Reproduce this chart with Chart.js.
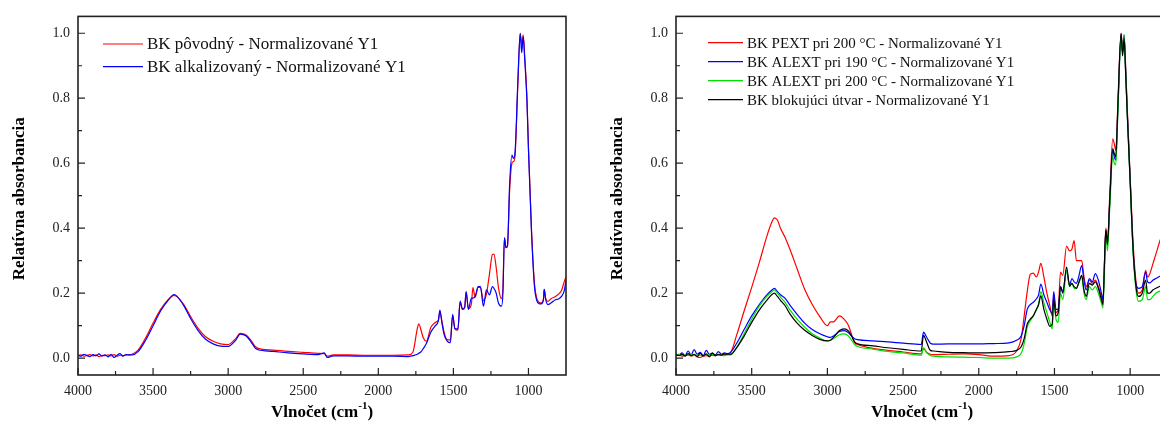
<!DOCTYPE html>
<html>
<head>
<meta charset="utf-8">
<script src="https://cdn.jsdelivr.net/npm/chart.js@4.4.1/dist/chart.umd.min.js"></script>
<style>
    html, body { margin: 0; padding: 0; background: #fff; overflow: hidden; }
    #wrap { position: relative; width: 1160px; height: 428px; }
    .panel { position: absolute; top: 0; width: 580px; height: 428px; overflow: hidden; }
</style>
</head>
<body>
<div id="wrap">
    <div class="panel" style="left:0"><canvas id="leftChart" width="580" height="428"></canvas></div>
    <div class="panel" style="left:580px"><canvas id="rightChart" width="600" height="428"></canvas></div>
</div>
<script>
// Axis ticks
const xTicks = [4000, 3500, 3000, 2500, 2000, 1500, 1000];
const yTicks = [0.0, 0.2, 0.4, 0.6, 0.8, 1.0];

// Left panel: wavenumbers (cm-1) and normalised absorbance
const wnLeft = [
    4000, 3980, 3960, 3940, 3920, 3900, 3880, 3860, 3840, 3820, 3800, 3780, 3760, 3740, 3720, 3700, 3680, 3660,
    3640, 3600, 3550, 3500, 3450, 3400, 3360, 3300, 3250, 3200,
    3150, 3100, 3050, 3000, 2950, 2920, 2880, 2850, 2820, 2800,
    2700, 2600, 2500, 2400, 2360, 2340, 2300, 2200, 2100, 2000,
    1900, 1800, 1770, 1740, 1730, 1715, 1700, 1680, 1650, 1620,
    1600, 1590, 1575, 1560, 1540, 1520, 1505, 1490, 1470, 1455,
    1440, 1425, 1415, 1400, 1380, 1370, 1355, 1335, 1320, 1300,
    1280, 1260, 1240, 1230, 1215, 1200, 1180, 1170, 1160, 1150,
    1140, 1125, 1110, 1100, 1090, 1070, 1055, 1045, 1035, 1025,
    1010, 1000, 980, 960, 945, 930, 915, 900, 895, 885,
    870, 850, 820, 800, 780, 760, 750
];
const povodny = [
    0.008, 0.010, 0.006, 0.009, 0.011, 0.007, 0.010, 0.005, 0.009, 0.008, 0.010, 0.007, 0.011, 0.006, 0.009, 0.008, 0.010, 0.010,
    0.012, 0.025, 0.062, 0.108, 0.150, 0.180, 0.193, 0.168, 0.128, 0.092,
    0.066, 0.052, 0.044, 0.042, 0.060, 0.076, 0.071, 0.056, 0.036, 0.030,
    0.025, 0.021, 0.018, 0.015, 0.014, 0.006, 0.010, 0.010, 0.009, 0.009,
    0.009, 0.010, 0.018, 0.092, 0.106, 0.085, 0.062, 0.052, 0.095, 0.110,
    0.118, 0.140, 0.110, 0.076, 0.056, 0.056, 0.132, 0.091, 0.086, 0.173,
    0.152, 0.157, 0.203, 0.152, 0.167, 0.217, 0.188, 0.218, 0.218, 0.177,
    0.197, 0.258, 0.319, 0.320, 0.279, 0.218, 0.183, 0.218, 0.370, 0.340,
    0.345, 0.520, 0.600, 0.605, 0.620, 0.850, 1.000, 0.965, 0.995, 0.930,
    0.800, 0.650, 0.400, 0.230, 0.185, 0.172, 0.170, 0.183, 0.212, 0.183,
    0.175, 0.183, 0.190, 0.197, 0.208, 0.238, 0.250
];
const alkalizovany = [
    0.010, 0.006, 0.012, 0.008, 0.005, 0.011, 0.007, 0.013, 0.006, 0.010, 0.004, 0.012, 0.002, 0.009, 0.014, 0.006, 0.011, 0.010,
    0.010, 0.020, 0.055, 0.100, 0.145, 0.178, 0.196, 0.165, 0.122, 0.085,
    0.058, 0.044, 0.037, 0.036, 0.055, 0.074, 0.068, 0.052, 0.031, 0.026,
    0.021, 0.016, 0.013, 0.011, 0.016, 0.002, 0.007, 0.007, 0.006, 0.006,
    0.006, 0.005, 0.008, 0.012, 0.015, 0.020, 0.030, 0.045, 0.080, 0.100,
    0.115, 0.148, 0.105, 0.070, 0.052, 0.048, 0.135, 0.090, 0.090, 0.176,
    0.150, 0.155, 0.205, 0.150, 0.185, 0.185, 0.190, 0.220, 0.220, 0.160,
    0.210, 0.195, 0.220, 0.215, 0.200, 0.170, 0.160, 0.200, 0.370, 0.340,
    0.345, 0.540, 0.625, 0.615, 0.630, 0.860, 1.000, 0.940, 0.990, 0.920,
    0.790, 0.640, 0.390, 0.220, 0.178, 0.168, 0.167, 0.180, 0.212, 0.180,
    0.165, 0.170, 0.180, 0.182, 0.190, 0.210, 0.240
];

// Right panel
const wnRight = [
    4000, 3980, 3960, 3940, 3920, 3900, 3880, 3860, 3840, 3820, 3800, 3780, 3760, 3740, 3720, 3700, 3680, 3660,
    3640, 3600, 3550, 3500, 3450, 3400, 3370, 3350, 3330, 3310,
    3280, 3250, 3200, 3150, 3100, 3050, 3000, 2980, 2960, 2920,
    2890, 2860, 2840, 2820, 2800, 2700, 2600, 2500, 2380, 2365,
    2345, 2320, 2300, 2200, 2100, 2000, 1900, 1800, 1750, 1720,
    1700, 1680, 1660, 1640, 1620, 1605, 1590, 1570, 1550, 1530,
    1515, 1505, 1490, 1475, 1460, 1445, 1420, 1400, 1385, 1370,
    1355, 1340, 1320, 1305, 1290, 1270, 1250, 1230, 1210, 1190,
    1180, 1165, 1160, 1150, 1135, 1115, 1105, 1095, 1080, 1060,
    1050, 1040, 1030, 1020, 1000, 980, 960, 944, 920, 898,
    885, 870, 850, 830, 800, 780, 760, 750
];
const pext200 = [
    0.008, 0.010, 0.006, 0.009, 0.010, 0.007, 0.009, 0.004, 0.002, 0.006, 0.008, 0.007, 0.009, 0.008, 0.010, 0.009, 0.010, 0.012,
    0.016, 0.070, 0.145, 0.218, 0.294, 0.375, 0.415, 0.432, 0.425, 0.400,
    0.372, 0.338, 0.275, 0.212, 0.165, 0.128, 0.100, 0.112, 0.112, 0.130,
    0.120, 0.100, 0.072, 0.048, 0.042, 0.030, 0.024, 0.019, 0.013, 0.030,
    0.018, 0.012, 0.011, 0.012, 0.013, 0.011, 0.006, 0.008, 0.022, 0.060,
    0.130, 0.205, 0.258, 0.262, 0.250, 0.265, 0.292, 0.250, 0.200, 0.160,
    0.130, 0.195, 0.140, 0.150, 0.265, 0.255, 0.345, 0.330, 0.335, 0.362,
    0.300, 0.300, 0.300, 0.250, 0.220, 0.240, 0.230, 0.240, 0.220, 0.190,
    0.170, 0.360, 0.400, 0.350, 0.500, 0.675, 0.660, 0.640, 0.800, 1.000,
    0.950, 0.990, 0.900, 0.780, 0.560, 0.350, 0.230, 0.200, 0.210, 0.270,
    0.250, 0.260, 0.290, 0.320, 0.365, 0.385, 0.405, 0.415
];
const alext190 = [
    0.012, 0.010, 0.016, 0.008, 0.022, 0.010, 0.026, 0.012, 0.018, 0.008, 0.024, 0.012, 0.015, 0.010, 0.020, 0.012, 0.016, 0.014,
    0.018, 0.045, 0.088, 0.130, 0.165, 0.195, 0.208, 0.215, 0.205, 0.195,
    0.185, 0.165, 0.135, 0.108, 0.088, 0.075, 0.066, 0.064, 0.068, 0.082,
    0.085, 0.078, 0.068, 0.060, 0.057, 0.053, 0.050, 0.046, 0.042, 0.080,
    0.065, 0.046, 0.043, 0.044, 0.044, 0.044, 0.045, 0.047, 0.055, 0.068,
    0.100, 0.150, 0.165, 0.172, 0.182, 0.195, 0.228, 0.195, 0.172, 0.148,
    0.138, 0.205, 0.150, 0.150, 0.220, 0.205, 0.270, 0.225, 0.245, 0.235,
    0.230, 0.250, 0.285, 0.240, 0.210, 0.245, 0.235, 0.260, 0.240, 0.200,
    0.180, 0.350, 0.390, 0.350, 0.480, 0.640, 0.620, 0.610, 0.780, 0.995,
    0.940, 0.995, 0.890, 0.770, 0.550, 0.330, 0.225, 0.215, 0.220, 0.265,
    0.235, 0.232, 0.240, 0.245, 0.253, 0.258, 0.262, 0.265
];
const alext200 = [
    0.010, 0.012, 0.008, 0.010, 0.009, 0.011, 0.008, 0.010, 0.009, 0.008, 0.010, 0.009, 0.011, 0.008, 0.010, 0.009, 0.008, 0.010,
    0.010, 0.032, 0.075, 0.120, 0.160, 0.190, 0.203, 0.210, 0.200, 0.188,
    0.172, 0.150, 0.120, 0.095, 0.075, 0.062, 0.053, 0.055, 0.060, 0.072,
    0.075, 0.068, 0.055, 0.042, 0.036, 0.028, 0.021, 0.016, 0.009, 0.032,
    0.018, 0.008, 0.006, 0.004, 0.003, 0.002, 0.000, 0.000, 0.004, 0.015,
    0.045, 0.095, 0.115, 0.130, 0.148, 0.165, 0.205, 0.170, 0.140, 0.110,
    0.090, 0.175, 0.120, 0.110, 0.200, 0.180, 0.270, 0.220, 0.230, 0.215,
    0.215, 0.230, 0.250, 0.200, 0.180, 0.220, 0.210, 0.220, 0.200, 0.170,
    0.155, 0.330, 0.380, 0.330, 0.460, 0.620, 0.600, 0.595, 0.770, 0.990,
    0.940, 0.995, 0.880, 0.760, 0.540, 0.320, 0.205, 0.175, 0.180, 0.220,
    0.180, 0.180, 0.190, 0.200, 0.207, 0.212, 0.216, 0.218
];
const blokujuci = [
    0.010, 0.008, 0.012, 0.006, 0.014, 0.008, 0.012, 0.005, 0.015, 0.007, 0.013, 0.004, 0.016, 0.008, 0.012, 0.009, 0.013, 0.012,
    0.012, 0.032, 0.068, 0.110, 0.148, 0.178, 0.194, 0.200, 0.190, 0.178,
    0.162, 0.138, 0.108, 0.086, 0.070, 0.058, 0.053, 0.055, 0.064, 0.085,
    0.090, 0.083, 0.068, 0.050, 0.044, 0.038, 0.032, 0.027, 0.022, 0.070,
    0.050, 0.024, 0.022, 0.018, 0.017, 0.016, 0.017, 0.020, 0.024, 0.035,
    0.060, 0.105, 0.120, 0.130, 0.150, 0.165, 0.192, 0.150, 0.120, 0.098,
    0.105, 0.180, 0.130, 0.140, 0.220, 0.200, 0.280, 0.222, 0.230, 0.220,
    0.215, 0.232, 0.255, 0.210, 0.190, 0.230, 0.225, 0.235, 0.215, 0.180,
    0.165, 0.360, 0.395, 0.350, 0.480, 0.645, 0.630, 0.620, 0.790, 1.000,
    0.930, 0.985, 0.880, 0.760, 0.545, 0.330, 0.215, 0.190, 0.200, 0.240,
    0.200, 0.200, 0.210, 0.215, 0.222, 0.226, 0.230, 0.232
];

const SERIF = "'Liberation Serif', 'Times New Roman', serif";
const INK = '#222';

// frame, inward ticks, axis titles and legend
const framePlugin = {
    id: 'frame',
    afterDraw(chart, args, opts) {
        const { ctx, chartArea: a, scales: { x, y } } = chart;
        ctx.save();

        ctx.strokeStyle = INK;
        ctx.lineWidth = 1.2;
        ctx.beginPath();
        xTicks.forEach(v => {
            const px = x.getPixelForValue(v);
            ctx.moveTo(px, a.bottom); ctx.lineTo(px, a.bottom - 7);
            const pm = x.getPixelForValue(v - 250);
            if (pm < a.right) { ctx.moveTo(pm, a.bottom); ctx.lineTo(pm, a.bottom - 4); }
        });
        yTicks.forEach(v => {
            const py = y.getPixelForValue(v);
            ctx.moveTo(a.left, py); ctx.lineTo(a.left + 7, py);
            if (v < 1) {
                const pm = y.getPixelForValue(v + 0.1);
                ctx.moveTo(a.left, pm); ctx.lineTo(a.left + 4, pm);
            }
        });
        ctx.stroke();

        ctx.lineWidth = 1.6;
        ctx.strokeRect(a.left, a.top, a.right - a.left, a.bottom - a.top);

        // y title
        ctx.fillStyle = '#000';
        ctx.font = `bold 17px ${SERIF}`;
        ctx.textAlign = 'center';
        ctx.textBaseline = 'middle';
        ctx.save();
        ctx.translate(a.left - 58, (a.top + a.bottom) / 2 + 3);
        ctx.rotate(-Math.PI / 2);
        ctx.fillText('Relatívna absorbancia', 0, 0);
        ctx.restore();

        // x title with superscript
        const main = 'Vlnočet (cm', sup = '-1', tail = ')';
        ctx.font = `bold 17px ${SERIF}`;
        const w1 = ctx.measureText(main).width;
        const w3 = ctx.measureText(tail).width;
        ctx.font = `bold 11px ${SERIF}`;
        const w2 = ctx.measureText(sup).width;
        let tx = opts.titleX - (w1 + w2 + w3) / 2;
        const ty = 413;
        ctx.textAlign = 'left';
        ctx.font = `bold 17px ${SERIF}`;
        ctx.fillText(main, tx, ty);
        ctx.font = `bold 11px ${SERIF}`;
        ctx.fillText(sup, tx + w1, ty - 7);
        ctx.font = `bold 17px ${SERIF}`;
        ctx.fillText(tail, tx + w1 + w2, ty);

        // legend
        const lg = opts.legend;
        ctx.font = `${lg.size}px ${SERIF}`;
        ctx.lineWidth = 1.2;
        chart.data.datasets.forEach((ds, i) => {
            const ly = lg.y0 + i * lg.dy;
            ctx.strokeStyle = ds.borderColor;
            ctx.beginPath();
            ctx.moveTo(lg.lineX, ly); ctx.lineTo(lg.lineX + lg.lineW, ly);
            ctx.stroke();
            ctx.fillStyle = '#111';
            ctx.fillText(ds.label, lg.textX, ly + 1);
        });

        ctx.restore();
    }
};

function makeChart(id, wn, series, opts) {
    return new Chart(document.getElementById(id), {
        type: 'line',
        data: {
            datasets: series.map((s, i) => ({
                label: s.label,
                data: wn.map((w, k) => ({ x: w, y: s.values[k] })),
                borderColor: s.color,
                borderWidth: 1.2,
                pointRadius: 0,
                cubicInterpolationMode: 'monotone',
                order: series.length - i
            }))
        },
        options: {
            responsive: false,
            animation: false,
            layout: { padding: { left: 0, right: opts.padRight, top: 13, bottom: 0 } },
            plugins: {
                legend: { display: false },
                tooltip: { enabled: false },
                frame: { titleX: opts.titleX, legend: opts.legend }
            },
            scales: {
                x: {
                    type: 'linear',
                    reverse: true,
                    min: 750,
                    max: 4000,
                    afterBuildTicks: s => { s.ticks = xTicks.map(v => ({ value: v })); },
                    afterFit: s => { s.height = 53; },
                    grid: { display: false, drawTicks: false },
                    border: { display: false },
                    ticks: {
                        padding: 8,
                        maxRotation: 0,
                        autoSkip: false,
                        color: INK,
                        font: { family: SERIF, size: 14 },
                        callback: v => String(v)
                    }
                },
                y: {
                    type: 'linear',
                    min: -0.0518,
                    max: 1.0518,
                    afterBuildTicks: s => { s.ticks = yTicks.map(v => ({ value: v })); },
                    afterFit: s => { s.width = opts.yWidth; },
                    grid: { display: false, drawTicks: false },
                    border: { display: false },
                    ticks: {
                        padding: 8,
                        color: INK,
                        font: { family: SERIF, size: 14 },
                        callback: v => v.toFixed(1)
                    }
                }
            }
        },
        plugins: [framePlugin]
    });
}

makeChart('leftChart', wnLeft, [
    { label: 'BK pôvodný - Normalizované Y1', values: povodny, color: '#ff0000' },
    { label: 'BK alkalizovaný - Normalizované Y1', values: alkalizovany, color: '#0000ff' }
], {
    yWidth: 78, padRight: 14, titleX: 322,
    legend: { lineX: 103, lineW: 40, textX: 147, y0: 44, dy: 22.7, size: 17 }
});

makeChart('rightChart', wnRight, [
    { label: 'BK PEXT pri 200 °C - Normalizované Y1', values: pext200, color: '#ff0000' },
    { label: 'BK ALEXT pri 190 °C - Normalizované Y1', values: alext190, color: '#0000ff' },
    { label: 'BK ALEXT pri 200 °C - Normalizované Y1', values: alext200, color: '#00e000' },
    { label: 'BK blokujúci útvar - Normalizované Y1', values: blokujuci, color: '#000000' }
], {
    yWidth: 96, padRight: 12, titleX: 342,
    legend: { lineX: 128, lineW: 35, textX: 167, y0: 42.7, dy: 19, size: 15 }
});
</script>
</body>
</html>
